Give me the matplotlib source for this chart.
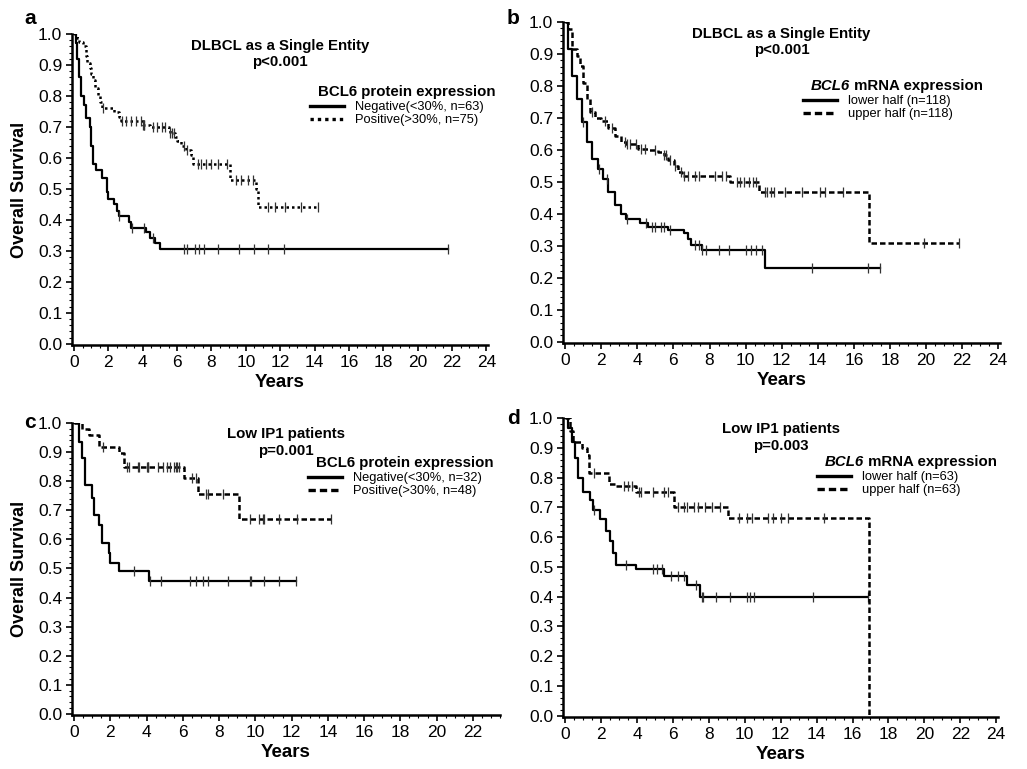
import matplotlib
matplotlib.use("Agg")
import matplotlib.pyplot as plt
import numpy as np
from matplotlib.lines import Line2D
from matplotlib.ticker import MultipleLocator

plt.rcParams["font.family"] = ["Liberation Sans", "DejaVu Sans"]

##############################################################################
# Kaplan-Meier data: step times, survival after step,
# last follow-up time and censor times
##############################################################################
# a) BCL6 protein, all DLBCL
a_neg_t = [0.1, 0.2, 0.3, 0.4, 0.55, 0.7, 0.9, 1.0, 1.1, 1.3, 1.6, 1.9, 2.0,
           2.3, 2.5, 2.6, 3.2, 3.3, 4.2, 4.4, 4.7, 5.0]
a_neg_s = [0.97, 0.92, 0.86, 0.80, 0.77, 0.73, 0.70, 0.64, 0.58, 0.56, 0.535,
           0.49, 0.467, 0.45, 0.43, 0.413, 0.393, 0.375, 0.36, 0.343, 0.325, 0.305]
a_neg_end = 21.75
a_neg_cens = [2.6, 3.4, 4.1, 4.6, 6.4, 6.6, 7.05, 7.3, 7.55, 8.4, 9.6, 10.45,
              11.3, 12.2, 21.75]

a_pos_t = [0.15, 0.3, 0.5, 0.7, 0.75, 0.9, 1.0, 1.1, 1.2, 1.4, 1.5, 1.6, 2.3,
           2.6, 2.75, 4.0, 4.4, 5.5, 5.6, 5.9, 6.0, 6.2, 6.5, 6.8, 6.9, 9.1,
           10.6, 10.7]
a_pos_s = [0.987, 0.973, 0.96, 0.93, 0.907, 0.89, 0.87, 0.85, 0.825, 0.80,
           0.78, 0.76, 0.747, 0.733, 0.718, 0.707, 0.70, 0.69, 0.68, 0.667,
           0.653, 0.638, 0.627, 0.61, 0.579, 0.53, 0.50, 0.44]
a_pos_end = 14.2
a_pos_cens = [1.7, 2.8, 3.0, 3.3, 3.6, 3.9, 4.0, 4.05, 4.1, 4.6, 4.8, 5.1, 5.3,
              5.6, 5.7, 5.8, 6.4, 6.6, 7.2, 7.4, 7.7, 8.0, 8.4, 8.9, 9.4, 9.7,
              10.1, 10.4, 11.3, 11.7, 12.3, 13.2, 14.2]

# b) BCL6 mRNA, all DLBCL
b_low_t = [0.18, 0.37, 0.64, 0.92, 1.19, 1.47, 1.83, 2.1, 2.38, 2.75, 3.11,
           3.39, 4.12, 4.58, 5.68, 6.6, 6.8, 6.96, 7.6, 11.08]
b_low_s = [0.915, 0.83, 0.76, 0.687, 0.625, 0.573, 0.541, 0.51, 0.469, 0.427,
           0.40, 0.385, 0.37, 0.36, 0.35, 0.34, 0.32, 0.303, 0.287, 0.23]
b_low_end = 17.45
b_low_cens = [1.0, 1.9, 2.3, 3.4, 4.5, 4.8, 5.0, 5.3, 5.5, 5.8, 7.2, 7.4, 7.6,
              7.8, 8.5, 9.1, 10.0, 10.3, 10.6, 10.9, 13.7, 16.8, 17.45]

b_up_t = [0.18, 0.37, 0.64, 0.82, 1.0, 1.19, 1.37, 1.65, 2.0, 2.38, 2.75,
          3.11, 3.39, 4.03, 4.58, 5.13, 5.5, 5.68, 6.05, 6.23, 6.5, 9.16,
          10.72, 16.85]
b_up_s = [0.977, 0.915, 0.894, 0.863, 0.81, 0.76, 0.718, 0.70, 0.69, 0.67,
          0.645, 0.625, 0.618, 0.604, 0.60, 0.593, 0.583, 0.567, 0.55, 0.531,
          0.518, 0.50, 0.469, 0.31]
b_up_end = 21.85
b_up_cens = [1.5, 2.2, 2.6, 3.3, 3.4, 3.6, 3.9, 4.2, 4.4, 5.0, 5.5, 5.6, 5.8,
             6.1, 6.4, 6.6, 6.8, 7.2, 7.4, 8.3, 8.7, 8.9, 9.5, 9.7, 9.9, 10.2,
             10.4, 10.6, 11.1, 11.2, 11.4, 11.6, 12.2, 13.1, 14.1, 14.4, 15.4,
             19.9, 21.85]

# c) BCL6 protein, low IP1
c_neg_t = [0.29, 0.44, 0.59, 0.99, 1.08, 1.36, 1.54, 1.94, 2.0, 2.46, 4.11]
c_neg_s = [0.935, 0.878, 0.787, 0.741, 0.684, 0.65, 0.587, 0.553, 0.519,
           0.49, 0.456]
c_neg_end = 12.24
c_neg_cens = [3.3, 4.2, 4.8, 6.4, 6.7, 7.1, 7.4, 8.5, 9.7, 9.75, 10.5, 11.3,
              12.24]

c_pos_t = [0.44, 0.81, 1.36, 2.46, 2.73, 6.04, 6.86, 9.12]
c_pos_s = [0.98, 0.958, 0.917, 0.896, 0.85, 0.81, 0.757, 0.67]
c_pos_end = 14.2
c_pos_cens = [1.6, 2.9, 3.0, 3.5, 3.6, 4.0, 4.05, 4.1, 4.6, 4.9, 5.1, 5.3,
              5.5, 5.6, 5.7, 5.8, 6.5, 6.7, 7.3, 7.4, 8.2, 9.7, 10.2, 10.4,
              10.5, 11.3, 12.3, 14.2]

# d) BCL6 mRNA, low IP1
d_low_t = [0.18, 0.37, 0.55, 0.74, 1.01, 1.38, 1.57, 1.93, 2.3, 2.49, 2.67,
           2.85, 3.96, 5.52, 6.81, 7.5]
d_low_s = [0.966, 0.92, 0.866, 0.80, 0.75, 0.726, 0.69, 0.66, 0.62, 0.587,
           0.548, 0.508, 0.492, 0.47, 0.44, 0.40]
d_low_end = 16.85
d_low_cens = [1.6, 3.4, 4.9, 5.1, 5.4, 5.9, 6.3, 6.6, 7.3, 7.6, 7.7, 8.4, 9.2,
              10.1, 10.3, 10.5, 13.8, 16.85]

d_up_t = [0.28, 0.46, 0.92, 1.2, 1.33, 2.43, 2.76, 3.96, 6.04, 9.06, 16.9]
d_up_s = [0.955, 0.92, 0.90, 0.877, 0.816, 0.78, 0.77, 0.75, 0.70, 0.665, 0.0]
d_up_end = 16.9
d_up_cens = [1.6, 3.3, 3.5, 3.7, 4.1, 4.2, 4.9, 5.5, 5.7, 6.3, 6.6, 6.8, 7.2,
             7.4, 7.8, 8.2, 8.6, 9.7, 10.1, 10.4, 11.3, 11.6, 12.0, 12.4, 14.4]

# text
panel_letters = ["a", "b", "c", "d"]
titles = ["DLBCL as a Single Entity\np<0.001", "DLBCL as a Single Entity\np<0.001",
          "Low IP1 patients\np=0.001", "Low IP1 patients\np=0.003"]
labels_protein_a = ["Negative(<30%, n=63)", "Positive(>30%, n=75)"]
labels_mrna_b = ["lower half (n=118)", "upper half (n=118)"]
labels_protein_c = ["Negative(<30%, n=32)", "Positive(>30%, n=48)"]
labels_mrna_d = ["lower half (n=63)", "upper half (n=63)"]

W, H = 1027, 769


def km_curve(ax, t, s, end, cens, ls, lw):
    tt = np.concatenate([[0.0], t, [end]])
    ss = np.concatenate([[1.0], s, [s[-1]]])
    ax.step(tt, ss, where="post", color="black", ls=ls, lw=lw)
    cens = np.asarray(cens)
    idx = np.searchsorted(tt, cens, side="right") - 1
    idx = np.clip(idx, 0, len(ss) - 1)
    ax.plot(cens, ss[idx], ls="none", marker="|", ms=7, mew=0.9,
            color="#333333")


def style_axes(ax, xmax):
    ax.set_xlim(-0.12, xmax)
    ax.set_ylim(-0.004, 1.0)
    for side in ["top", "right"]:
        ax.spines[side].set_visible(False)
    for side in ["left", "bottom"]:
        ax.spines[side].set_linewidth(1.8)
    ax.xaxis.set_major_locator(MultipleLocator(2))
    ax.xaxis.set_minor_locator(MultipleLocator(0.5))
    ax.yaxis.set_major_locator(MultipleLocator(0.1))
    ax.yaxis.set_minor_locator(MultipleLocator(0.02))
    ax.tick_params(which="major", length=4, width=1.2, labelsize=12.5, pad=3)
    ax.tick_params(which="minor", length=2, width=0.8)
    ax.yaxis.set_major_formatter(matplotlib.ticker.FormatStrFormatter("%.1f"))
    ax.set_xlabel("Years", fontsize=13.5, fontweight="bold", labelpad=3)


def add_legend(ax, title_parts, labels, styles, x, y):
    # x, y: figure pixel position of the legend title (left, centre)
    fig = ax.figure
    t1 = fig.text(x / W, 1 - y / H, title_parts[0], fontsize=10.8,
                  fontweight="bold", style=title_parts[1], va="center")
    if len(title_parts) > 2:
        ax.annotate(title_parts[2], xy=(1, 0.5), xycoords=t1, va="center",
                    fontsize=10.8, fontweight="bold")
    handles = [Line2D([], [], color="black", lw=2.4, ls=styles[0]),
               Line2D([], [], color="black", lw=2.4, ls=styles[1])]
    leg = ax.legend(handles, labels, loc="upper left",
                    bbox_to_anchor=((x - 8) / W, 1 - (y + 9) / H),
                    bbox_transform=fig.transFigure, frameon=False,
                    fontsize=9.3, handlelength=2.6, handletextpad=0.9,
                    labelspacing=0.1, borderpad=0, borderaxespad=0)
    return leg


fig = plt.figure(figsize=(10.27, 7.69), dpi=100)
ax_a = fig.add_axes([72 / W, 1 - 345 / H, 416 / W, 311 / H])
ax_b = fig.add_axes([563 / W, 1 - 343 / H, 437 / W, 321 / H])
ax_c = fig.add_axes([72 / W, 1 - 715 / H, 428 / W, 292 / H])
ax_d = fig.add_axes([563 / W, 1 - 717 / H, 435 / W, 299 / H])

dot = (0, (1, 1.2))
dash = (0, (2.2, 1.2))

km_curve(ax_a, a_neg_t, a_neg_s, a_neg_end, a_neg_cens, "-", 1.6)
km_curve(ax_a, a_pos_t, a_pos_s, a_pos_end, a_pos_cens, dot, 1.8)
km_curve(ax_b, b_low_t, b_low_s, b_low_end, b_low_cens, "-", 1.6)
km_curve(ax_b, b_up_t, b_up_s, b_up_end, b_up_cens, dash, 1.8)
km_curve(ax_c, c_neg_t, c_neg_s, c_neg_end, c_neg_cens, "-", 1.6)
km_curve(ax_c, c_pos_t, c_pos_s, c_pos_end, c_pos_cens, dash, 1.8)
km_curve(ax_d, d_low_t, d_low_s, d_low_end, d_low_cens, "-", 1.6)
km_curve(ax_d, d_up_t, d_up_s, d_up_end, d_up_cens, dash, 1.8)

for ax, xmax in [(ax_a, 24.1), (ax_b, 24.1), (ax_c, 23.5), (ax_d, 24.1)]:
    style_axes(ax, xmax)

ax_a.set_ylabel("Overall Survival", fontsize=13, fontweight="bold", labelpad=7)
ax_c.set_ylabel("Overall Survival", fontsize=13, fontweight="bold", labelpad=7)

for ax, ttl in zip([ax_a, ax_b, ax_c, ax_d], titles):
    ax.text(0.5, 0.985, ttl, transform=ax.transAxes, ha="center", va="top",
            fontsize=10.8, fontweight="bold", linespacing=1.2)

# panel letters (figure pixel positions)
for letter, (px, py) in zip(panel_letters, [(30, 18), (513, 18), (30, 422), (513, 418)]):
    fig.text(px / W, 1 - py / H, letter, fontsize=15, fontweight="bold",
             ha="center", va="center")

add_legend(ax_a, ["BCL6 protein expression", "normal"], labels_protein_a,
           ["-", dot], 318, 92)
add_legend(ax_b, ["BCL6", "italic", " mRNA expression"], labels_mrna_b,
           ["-", dash], 811, 86)
add_legend(ax_c, ["BCL6 protein expression", "normal"], labels_protein_c,
           ["-", dash], 316, 463)
add_legend(ax_d, ["BCL6", "italic", " mRNA expression"], labels_mrna_d,
           ["-", dash], 825, 462)

fig.savefig("out.png", dpi=100)
